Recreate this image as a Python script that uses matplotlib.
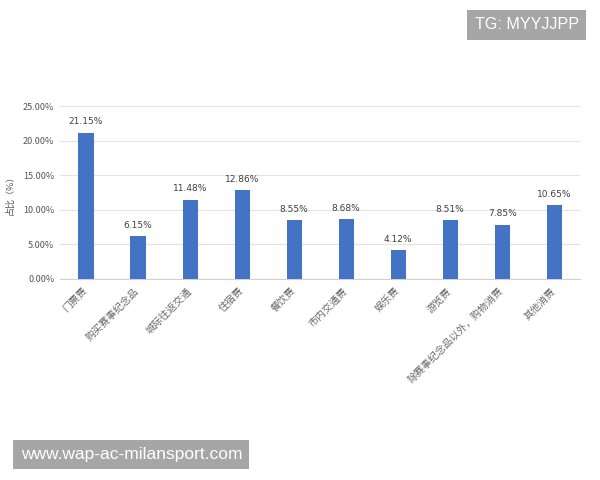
import matplotlib
matplotlib.use("Agg")
import matplotlib.pyplot as plt
import matplotlib.transforms as mtrans
from matplotlib.ticker import FuncFormatter

plt.rcParams['font.family'] = ['Noto Sans CJK SC', 'DejaVu Sans']

categories = ['门票费', '购买赛事纪念品', '城际往返交通', '住宿费', '餐饮费',
              '市内交通费', '娱乐费', '游览费', '除赛事纪念品以外，购物消费', '其他消费']
values = [21.15, 6.15, 11.48, 12.86, 8.55, 8.68, 4.12, 8.51, 7.85, 10.65]
yticks = [0, 5, 10, 15, 20, 25]

fig = plt.figure(figsize=(6, 4.8), dpi=100)
ax = fig.add_axes([0.1, 0.419, 0.867, 0.36])

x = list(range(len(categories)))
bars = ax.bar(x, values, width=0.29, color='#4472C4', zorder=3)
for xi, v in zip(x, values):
    ax.text(xi, v + 0.9, f'{v:.2f}%', ha='center', va='bottom', fontsize=6.5,
            color='#404040', family='DejaVu Sans')

ax.set_xlim(-0.5, len(categories) - 0.5)
ax.set_ylim(0, 25)
ax.set_yticks(yticks)
ax.yaxis.set_major_formatter(FuncFormatter(lambda v, p: f'{v:.2f}%'))
ax.grid(axis='y', color='#e3e3e3', linewidth=0.8, zorder=0)
for s in ['top', 'right', 'left']:
    ax.spines[s].set_visible(False)
ax.spines['bottom'].set_color('#d0d0d0')
ax.tick_params(axis='both', length=0, labelsize=6.5, colors='#555555')
ax.tick_params(axis='y', pad=4)
ax.set_xticks(x)
ax.set_xticklabels(categories, rotation=45, ha='right', rotation_mode='anchor',
                   fontsize=7.2, color='#666666')
ax.tick_params(axis='x', pad=5)
offset = mtrans.ScaledTranslation(-4 / 100, 0, fig.dpi_scale_trans)
for lab in ax.get_xticklabels():
    lab.set_transform(lab.get_transform() + offset)
ax.set_ylabel('占比（%）', fontsize=6.5, color='#555555', labelpad=6)

fig.text(0.878, 0.948, 'TG: MYYJJPP', ha='center', va='center', fontsize=11.6,
         color='white', family='Liberation Sans',
         bbox=dict(boxstyle='square,pad=0.45', facecolor='#a6a6a6', edgecolor='none'))
fig.text(0.219, 0.053, 'www.wap-ac-milansport.com', ha='center', va='center',
         fontsize=12.5, color='white', family='Liberation Sans',
         bbox=dict(boxstyle='square,pad=0.42', facecolor='#a6a6a6', edgecolor='none'))

fig.savefig('out.png', dpi=100)
